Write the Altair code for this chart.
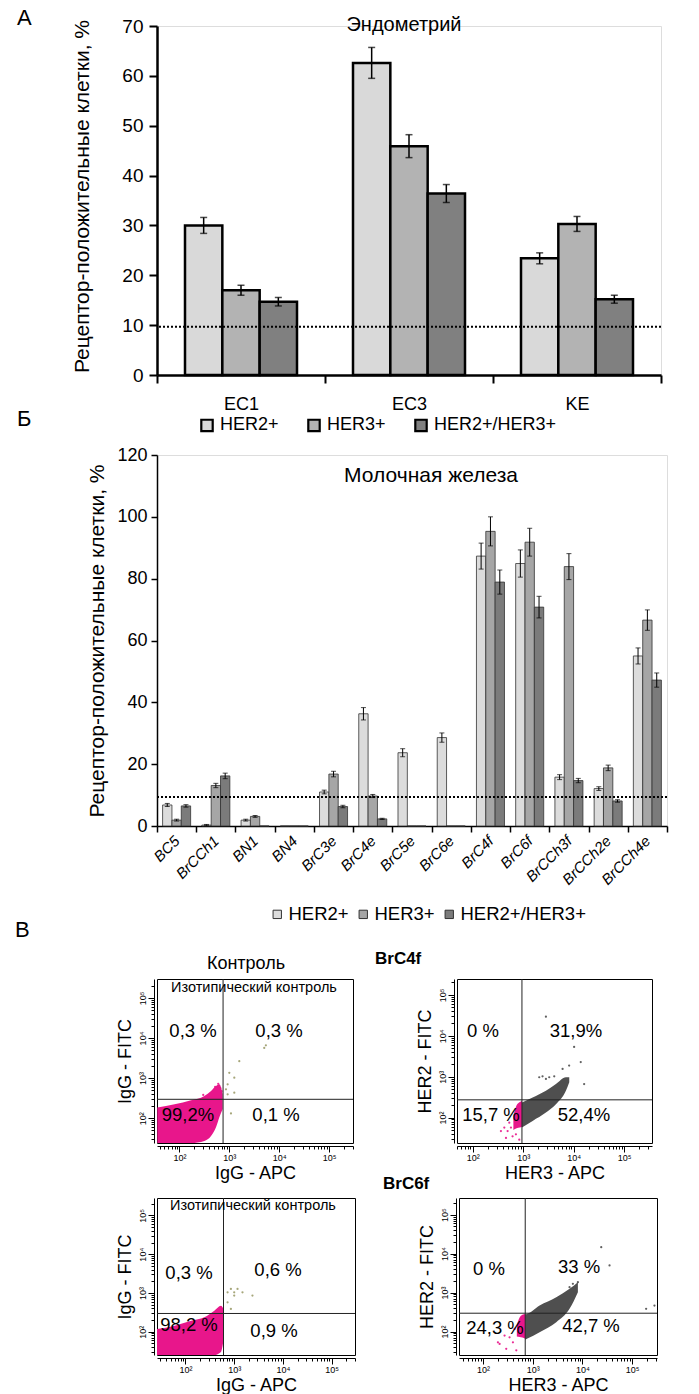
import altair as alt
import pandas as pd

FONT = "Liberation Sans, Arial, sans-serif"
NARROW = "Liberation Sans Narrow, Arial Narrow, Liberation Sans, sans-serif"

series = ["HER2+", "HER3+", "HER2+/HER3+"]
y_title = "Рецептор-положительные клетки, %"

# ---------------- Panel A (Эндометрий) ----------------
a_cats = ["EC1", "EC3", "KE"]
a_her2 = [30.0, 62.6, 23.4]
a_her3 = [17.0, 45.9, 30.3]
a_both = [14.7, 36.4, 15.2]
a_her2_err = [1.6, 3.1, 1.1]
a_her3_err = [1.0, 2.3, 1.5]
a_both_err = [0.85, 1.8, 0.8]
a_threshold = [9.7]
a_colors = ["#d9d9d9", "#b3b3b3", "#808080"]

# ---------------- Panel Б (Молочная железа) ----------------
b_cats = ["BC5", "BrCCh1", "BN1", "BN4", "BrC3e", "BrC4e", "BrC5e", "BrC6e",
          "BrC4f", "BrC6f", "BrCCh3f", "BrCCh2e", "BrCCh4e"]
b_her2 = [6.8, 0.3, 1.9, 0, 11.0, 36.3, 23.7, 28.6, 87.3, 84.9, 15.8, 12.1, 55.0]
b_her3 = [1.9, 13.1, 3.1, 0, 16.8, 9.7, 0, 0, 95.3, 91.8, 83.9, 18.8, 66.6]
b_both = [6.5, 16.2, 0, 0, 6.3, 2.3, 0, 0, 78.9, 70.8, 14.7, 8.1, 47.2]
b_her2_err = [0.5, 0.2, 0.3, 0, 0.6, 2.0, 1.3, 1.5, 4.2, 4.4, 0.8, 0.6, 2.6]
b_her3_err = [0.3, 0.7, 0.3, 0, 0.9, 0.5, 0, 0, 4.7, 4.5, 4.2, 0.9, 3.3]
b_both_err = [0.4, 0.9, 0, 0, 0.4, 0.2, 0, 0, 3.9, 3.5, 0.7, 0.4, 2.3]
b_threshold = [9.4]
b_colors = ["#dcdcdc", "#a6a6a6", "#7b7b7b"]

# ---------------- Panel В (flow cytometry) ----------------
c1_x_dom = [35.5, 302000]
c1_y_dom = [24, 295000]
c1_gate = [750, 295]
c1_cloud_x = [36, 80, 171, 316, 430, 541, 631, 736]
c1_cloud_top = [184, 222, 279, 358, 476, 631, 697, 400]
c1_cloud_bot = [24, 24, 24, 27, 36, 59, 105, 170]
c1_dots_x = [1000, 1259, 926, 858, 1585, 5012, 5410, 1080, 926, 1259]
c1_dots_y = [1350, 1020, 697, 524, 2630, 5620, 6570, 131, 394, 432]
c1_mdots_x = [600, 660, 520, 300, 700]
c1_mdots_y = [720, 560, 600, 380, 470]
c1_pct = ["0,3 %", "0,3 %", "99,2%", "0,1 %"]

c4_x_dom = [49, 355000]
c4_y_dom = [24, 243000]
c4_gate = [946, 272]
c4_grey_x = [946, 1540, 2820, 4450, 7010, 8170]
c4_grey_top = [234, 311, 454, 661, 968, 968]
c4_grey_bot = [57, 83, 133, 213, 454, 730]
c4_mag_x = [640, 741, 860, 946]
c4_mag_top = [110, 200, 240, 260]
c4_mag_bot = [50, 55, 57, 60]
c4_mdots_x = [423, 492, 531, 617, 457, 719, 573, 363, 837]
c4_mdots_y = [57, 47, 75, 35, 32, 39, 57, 47, 29]
c4_gdots_x = [2080, 2420, 2820, 3280, 4120, 2820, 10200, 13800, 16100, 6030, 8130]
c4_gdots_y = [968, 1023, 881, 968, 1023, 29200, 5320, 2270, 661, 1550, 1870]
c4_pct = ["0 %", "31,9%", "15,7 %", "52,4%"]

c2_x_dom = [26, 302000]
c2_y_dom = [25, 282000]
c2_gate = [603, 295]
c2_cloud_x = [26, 60, 131, 244, 391, 535, 603]
c2_cloud_top = [117, 143, 192, 235, 349, 470, 385]
c2_cloud_bot = [25, 25, 25, 25, 25, 30, 60]
c2_dots_x = [855, 1000, 1170, 1480, 2370, 731, 855, 1000, 731]
c2_dots_y = [1270, 1040, 1270, 1040, 853, 574, 385, 853, 1040]
c2_pct = ["0,3 %", "0,6 %", "98,2 %", "0,9 %"]

c6_x_dom = [33, 316000]
c6_y_dom = [25, 269000]
c6_gate = [708, 296]
c6_grey_x = [708, 766, 1377, 2980, 5510, 8110]
c6_grey_top = [280, 284, 466, 764, 1250, 1850]
c6_grey_bot = [62, 65, 96, 174, 383, 1025]
c6_mag_x = [480, 546, 620, 708]
c6_mag_top = [150, 230, 270, 284]
c6_mag_bot = [75, 72, 70, 65]
c6_mdots_x = [200, 216, 294, 401, 343, 468, 272, 433]
c6_mdots_y = [53, 48, 36, 53, 71, 33, 79, 117]
c6_gdots_x = [6430, 8110, 23900, 35100, 191000, 281000, 5510]
c6_gdots_y = [1680, 1850, 14700, 4980, 383, 466, 1380]
c6_pct = ["0 %", "33 %", "24,3 %", "42,7 %"]

MAGENTA = "#e8168b"
GREY = "#4f4f4f"
OLIVE = "#9c9c6c"


# ---------------- helpers ----------------
def long_df(cats, vals, errs):
    rows = []
    for s, v, e in zip(series, vals, errs):
        for c, vv, ee in zip(cats, v, e):
            rows.append({"cat": c, "series": s, "value": vv, "err": ee,
                         "lo": vv - ee, "hi": vv + ee})
    return pd.DataFrame(rows)


def txt(s, x, y, size, font=FONT, weight="normal", align="center", baseline="middle"):
    return alt.Chart(pd.DataFrame({"t": [s]})).mark_text(
        font=font, fontSize=size, fontWeight=weight, align=align,
        baseline=baseline, color="black"
    ).encode(text="t:N", x=alt.value(x), y=alt.value(y))


def anchor(x1, y1, x2, y2):
    return alt.Chart(pd.DataFrame({"a": [0]})).mark_rule(
        opacity=0, strokeWidth=1, color="white"
    ).encode(x=alt.value(x1), x2=alt.value(x2), y=alt.value(y1), y2=alt.value(y2))


# ---------------- Panel A chart ----------------
WA, HA = 504, 349
dfA = long_df(a_cats, [a_her2, a_her3, a_both], [a_her2_err, a_her3_err, a_both_err])

xA = alt.X("cat:N", sort=a_cats, scale=alt.Scale(paddingInner=0, paddingOuter=0),
           axis=alt.Axis(title=None, labelAngle=0, tickBand="extent", tickSize=8, tickWidth=2,
                         tickColor="black", domainColor="black", domainWidth=2.5,
                         labelFont=NARROW, labelFontSize=18, labelColor="black",
                         labelPadding=12))
xoA = alt.XOffset("series:N", sort=series,
                  scale=alt.Scale(paddingOuter=0.75, paddingInner=0))
yAscale = alt.Scale(domain=[0, 70], nice=False)
yAaxis = alt.Axis(values=list(range(0, 71, 10)), grid=False, title=y_title,
                  tickSize=8, tickWidth=2, tickColor="black", domainColor="black",
                  domainWidth=2.5, labelFont=NARROW, labelFontSize=19, labelColor="black",
                  labelPadding=6, titleFont=NARROW, titleFontSize=21,
                  titleFontWeight="normal", titleColor="black", titlePadding=29,
                  titleY=170)
colorA = alt.Color("series:N", sort=series, scale=alt.Scale(domain=series, range=a_colors),
                   legend=alt.Legend(orient="none", legendX=41, legendY=390,
                                     direction="horizontal", title=None, symbolType="square",
                                     symbolSize=130, symbolStrokeColor="black",
                                     symbolStrokeWidth=2.2, symbolOpacity=1,
                                     labelFont=FONT, labelFontSize=18, labelColor="black",
                                     columnPadding=24, labelOffset=4, padding=0))

barsA = alt.Chart(dfA).mark_bar(stroke="black", strokeWidth=2.5, opacity=1).encode(
    x=xA, xOffset=xoA, y=alt.Y("value:Q", scale=yAscale, axis=yAaxis), color=colorA)
errA = alt.Chart(dfA).mark_rule(color="black", strokeWidth=1.5).encode(
    x=xA, xOffset=xoA, y=alt.Y("lo:Q", scale=yAscale, axis=yAaxis), y2="hi:Q")
capLoA = alt.Chart(dfA).mark_tick(color="black", thickness=1.5, size=7).encode(
    x=xA, xOffset=xoA, y=alt.Y("lo:Q", scale=yAscale, axis=yAaxis))
capHiA = alt.Chart(dfA).mark_tick(color="black", thickness=1.5, size=7).encode(
    x=xA, xOffset=xoA, y=alt.Y("hi:Q", scale=yAscale, axis=yAaxis))
thrA = alt.Chart(pd.DataFrame({"thr": a_threshold})).mark_rule(
    color="black", strokeWidth=2, strokeDash=[2, 2]).encode(
    y=alt.Y("thr:Q", scale=yAscale, axis=yAaxis))

chartA = alt.layer(
    barsA, errA, capLoA, capHiA, thrA,
    txt("Эндометрий", 247, -1, 20, font=NARROW),
    txt("А", -140, -18, 22, align="left", baseline="top"),
    txt("Б", -140, 393, 22, align="left"),
    anchor(-141, -20, WA + 10, 415),
).properties(width=WA, height=HA)

# ---------------- Panel Б chart ----------------
WB, HB = 510, 371
dfB = long_df(b_cats, [b_her2, b_her3, b_both], [b_her2_err, b_her3_err, b_both_err])
dfBerr = dfB[dfB["err"] > 0]

xB = alt.X("cat:N", sort=b_cats, scale=alt.Scale(paddingInner=0, paddingOuter=0),
           axis=alt.Axis(title=None, labelAngle=315, labelAlign="right", labelBaseline="middle",
                         tickBand="extent", tickSize=6, tickWidth=1.5, tickColor="black",
                         domainColor="black", domainWidth=1.5, labelFont=FONT,
                         labelFontSize=15, labelFontStyle="italic", labelColor="black",
                         labelPadding=6))
xoB = alt.XOffset("series:N", sort=series,
                  scale=alt.Scale(paddingOuter=0.6, paddingInner=0))
yBscale = alt.Scale(domain=[0, 120], nice=False)
yBaxis = alt.Axis(values=list(range(0, 121, 20)), grid=False, title=y_title,
                  tickSize=6, tickWidth=1.5, tickColor="black", domainColor="black",
                  domainWidth=1.5, labelFont=FONT, labelFontSize=18, labelColor="black",
                  labelPadding=4, titleFont=FONT, titleFontSize=21, titleFontWeight="normal",
                  titleColor="black", titlePadding=9)
colorB = alt.Color("series:N", sort=series, scale=alt.Scale(domain=series, range=b_colors),
                   legend=alt.Legend(orient="none", legendX=111, legendY=450,
                                     direction="horizontal", title=None, symbolType="square",
                                     symbolSize=70, symbolStrokeColor="#333333",
                                     symbolStrokeWidth=1, symbolOpacity=1,
                                     labelFont=FONT, labelFontSize=18.5, labelColor="black",
                                     columnPadding=5, labelOffset=2, padding=0))

barsB = alt.Chart(dfB).mark_bar(stroke="#333333", strokeWidth=0.8, opacity=1).encode(
    x=xB, xOffset=xoB, y=alt.Y("value:Q", scale=yBscale, axis=yBaxis), color=colorB)
errB = alt.Chart(dfBerr).mark_rule(color="black", strokeWidth=1).encode(
    x=xB, xOffset=xoB, y=alt.Y("lo:Q", scale=yBscale, axis=yBaxis), y2="hi:Q")
capLoB = alt.Chart(dfBerr).mark_tick(color="black", thickness=1, size=5).encode(
    x=xB, xOffset=xoB, y=alt.Y("lo:Q", scale=yBscale, axis=yBaxis))
capHiB = alt.Chart(dfBerr).mark_tick(color="black", thickness=1, size=5).encode(
    x=xB, xOffset=xoB, y=alt.Y("hi:Q", scale=yBscale, axis=yBaxis))
thrB = alt.Chart(pd.DataFrame({"thr": b_threshold})).mark_rule(
    color="black", strokeWidth=2, strokeDash=[2, 2]).encode(
    y=alt.Y("thr:Q", scale=yBscale, axis=yBaxis))

chartB = alt.layer(
    barsB, errB, capLoB, capHiB, thrB,
    txt("Молочная железа", 274, 21, 21),
    txt("В", -142, 475, 22, align="left"),
    anchor(-143, -12, WB + 10, 491),
).properties(width=WB, height=HB)

# ---------------- flow cytometry panels ----------------
LBL = ("datum.value == 100 ? '10²' : datum.value == 1000 ? '10³' : "
       "datum.value == 10000 ? '10⁴' : datum.value == 100000 ? '10⁵' : ''")
MAJOR = "datum.value == 100 || datum.value == 1000 || datum.value == 10000 || datum.value == 100000"


def log_ticks(lo, hi):
    vals = []
    for e in range(0, 7):
        for m in range(1, 10):
            v = m * 10 ** e
            if lo <= v <= hi:
                vals.append(v)
    return vals


def flow(xdom, ydom, gate, w, h, xtitle, ytitle, areas, dots, texts, anc):
    xs = alt.Scale(type="log", domain=xdom, nice=False)
    ys = alt.Scale(type="log", domain=ydom, nice=False)
    common = dict(labelExpr=LBL, grid=False, labelFont=FONT, labelFontSize=9,
                  labelColor="black", labelFlush=False, labelOverlap=False,
                  tickColor="black", tickWidth=1, domainColor="black", domainWidth=1,
                  tickSize={"condition": {"test": MAJOR, "value": 6}, "value": 3},
                  titleFont=FONT, titleFontSize=18, titleFontWeight="normal",
                  titleColor="black", offset=3)
    xax = alt.Axis(values=log_ticks(*xdom), title=xtitle, labelPadding=1,
                   titlePadding=2, **common)
    yax = alt.Axis(values=log_ticks(*ydom), title=ytitle, labelAngle=270,
                   labelAlign="center", labelBaseline="bottom", labelPadding=1,
                   titlePadding=4, **common)

    def X(f):
        return alt.X(f + ":Q", scale=xs, axis=xax)

    def Y(f):
        return alt.Y(f + ":Q", scale=ys, axis=yax)

    layers = []
    for xs_, top_, bot_, col in areas:
        df = pd.DataFrame({"x": xs_, "top": top_, "bot": bot_})
        layers.append(alt.Chart(df).mark_area(color=col, opacity=1, interpolate="monotone",
                                              clip=True)
                      .encode(x=X("x"), y=Y("top"), y2=alt.Y2("bot:Q")))
    for dx, dy, col in dots:
        df = pd.DataFrame({"x": dx, "y": dy})
        layers.append(alt.Chart(df).mark_circle(color=col, size=5, opacity=0.9, clip=True)
                      .encode(x=X("x"), y=Y("y")))
    layers.append(alt.Chart(pd.DataFrame({"g": [gate[0]]})).mark_rule(
        color="#222222", strokeWidth=1).encode(x=X("g")))
    layers.append(alt.Chart(pd.DataFrame({"g": [gate[1]]})).mark_rule(
        color="#222222", strokeWidth=1).encode(y=Y("g")))
    layers.extend(texts)
    layers.append(anc)
    return alt.layer(*layers).properties(
        width=w, height=h, view=alt.ViewBackground(stroke="black", strokeWidth=1))


PCT = 18.5
iso = "Изотипический контроль"

ctrl1 = flow(c1_x_dom, c1_y_dom, c1_gate, 196, 164, "IgG - APC", "IgG - FITC",
             [(c1_cloud_x, c1_cloud_top, c1_cloud_bot, MAGENTA)],
             [(c1_mdots_x, c1_mdots_y, MAGENTA), (c1_dots_x, c1_dots_y, OLIVE)],
             [txt("Контроль", 89, -15, 18), txt(iso, 97, 9, 14.5),
              txt(c1_pct[0], 36, 52, PCT), txt(c1_pct[1], 122, 52, PCT),
              txt(c1_pct[2], 31, 136, PCT), txt(c1_pct[3], 119, 136, PCT)],
             anchor(-144, -31, 214, 215.5))

brc4f = flow(c4_x_dom, c4_y_dom, c4_gate, 195, 164, "HER3 - APC", "HER2 - FITC",
             [(c4_grey_x, c4_grey_top, c4_grey_bot, GREY),
              (c4_mag_x, c4_mag_top, c4_mag_bot, MAGENTA)],
             [(c4_mdots_x, c4_mdots_y, MAGENTA), (c4_gdots_x, c4_gdots_y, GREY)],
             [txt("BrC4f", -82, -20, 17, weight="bold", align="left"),
              txt("BrC6f", -74, 205, 17, weight="bold", align="left"),
              txt(c4_pct[0], 26, 52, PCT), txt(c4_pct[1], 119, 52, PCT),
              txt(c4_pct[2], 34, 136, PCT), txt(c4_pct[3], 127, 136, PCT)],
             anchor(-84, -31, 220, 215.5))

ctrl2 = flow(c2_x_dom, c2_y_dom, c2_gate, 198, 157, "IgG - APC", "IgG - FITC",
             [(c2_cloud_x, c2_cloud_top, c2_cloud_bot, MAGENTA)],
             [(c2_dots_x, c2_dots_y, OLIVE)],
             [txt(iso, 96, 8, 14.5),
              txt(c2_pct[0], 32, 75, PCT), txt(c2_pct[1], 121, 72, PCT),
              txt(c2_pct[2], 32, 127, PCT), txt(c2_pct[3], 117, 133, PCT)],
             anchor(-144, -2.5, 224, 200))

brc6f = flow(c6_x_dom, c6_y_dom, c6_gate, 198, 157, "HER3 - APC", "HER2 - FITC",
             [(c6_grey_x, c6_grey_top, c6_grey_bot, GREY),
              (c6_mag_x, c6_mag_top, c6_mag_bot, MAGENTA)],
             [(c6_mdots_x, c6_mdots_y, MAGENTA), (c6_gdots_x, c6_gdots_y, GREY)],
             [txt(c6_pct[0], 30, 71, PCT), txt(c6_pct[1], 120, 69, PCT),
              txt(c6_pct[2], 36, 130, PCT), txt(c6_pct[3], 132, 128, PCT)],
             anchor(-76, -2.5, 220, 200))

row1 = alt.hconcat(ctrl1, brc4f, spacing=0).resolve_scale(x="independent", y="independent")
row2 = alt.hconcat(ctrl2, brc6f, spacing=0).resolve_scale(x="independent", y="independent")

chart = alt.vconcat(chartA, chartB, row1, row2, spacing=0).resolve_scale(
    x="independent", y="independent", xOffset="independent", color="independent"
).properties(
    padding={"left": 12, "top": 5, "right": 0, "bottom": 0}
).configure_view(strokeWidth=0).configure(background="white")

chart.save("out.html", embed_options={"renderer": "svg", "actions": False})
